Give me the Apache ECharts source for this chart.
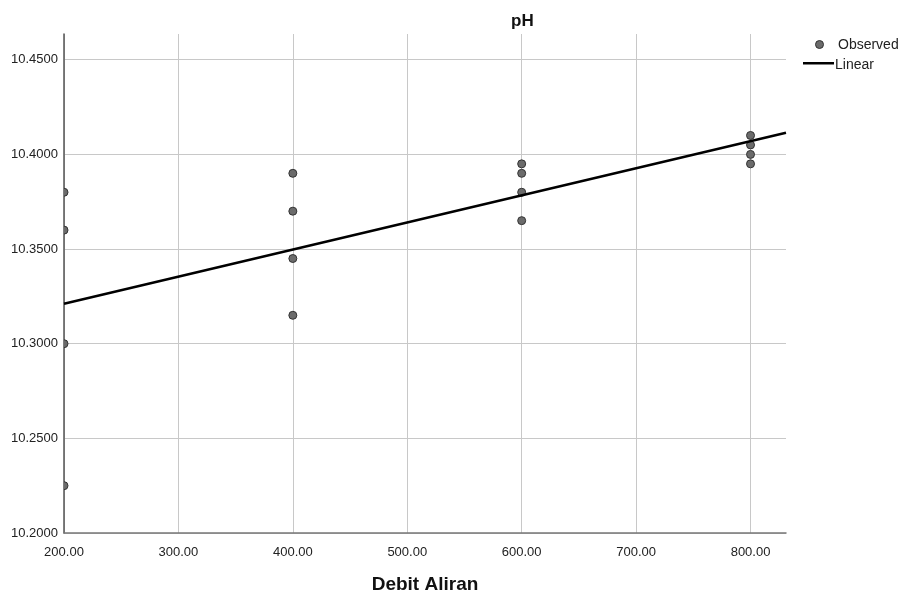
<!DOCTYPE html>
<html>
<head>
<meta charset="utf-8">
<script src="https://cdn.jsdelivr.net/npm/echarts@6/dist/echarts.min.js"></script>
<style>
  html, body { margin: 0; padding: 0; background: #fff; }
  #chart { width: 907px; height: 599px; }
</style>
</head>
<body>
<div id="chart"></div>
<script>
// Flow rate (Debit Aliran) groups and measured pH at each
const debitAliran = [200, 200, 200, 200, 400, 400, 400, 400, 600, 600, 600, 600, 800, 800, 800, 800];
const phObserved = [10.380, 10.360, 10.300, 10.225, 10.390, 10.370, 10.345, 10.315,
                    10.395, 10.390, 10.380, 10.365, 10.410, 10.405, 10.400, 10.395];
const xTicks = [200, 300, 400, 500, 600, 700, 800];
const yTicks = [10.20, 10.25, 10.30, 10.35, 10.40, 10.45];
const legendNames = ['Observed', 'Linear'];

const xMin = 200, xMax = 831;
const yMin = 10.20, yMax = 10.4636;

// least-squares line through the observations
function linearFit(xs, ys) {
  const n = xs.length;
  const mx = xs.reduce((a, b) => a + b, 0) / n;
  const my = ys.reduce((a, b) => a + b, 0) / n;
  let sxy = 0, sxx = 0;
  for (let i = 0; i < n; i++) {
    sxy += (xs[i] - mx) * (ys[i] - my);
    sxx += (xs[i] - mx) * (xs[i] - mx);
  }
  const b = sxy / sxx;
  return { a: my - b * mx, b: b };
}
const fit = linearFit(debitAliran, phObserved);
const fitLine = [[xMin, fit.a + fit.b * xMin], [xMax, fit.a + fit.b * xMax]];

const font = '"Liberation Sans", Arial, sans-serif';
const markerFill = '#6b6b6b';
const markerStroke = '#333';

const chart = echarts.init(document.getElementById('chart'), null, { renderer: 'canvas' });

chart.setOption({
  animation: false,
  backgroundColor: '#ffffff',
  title: {
    text: 'pH',
    left: 506,
    top: 8,
    textStyle: { fontFamily: font, fontSize: 17, fontWeight: 'bold', color: '#111' }
  },
  // key at the upper right
  graphic: [
    { type: 'circle', left: 815, top: 40, shape: { r: 4 },
      style: { fill: markerFill, stroke: markerStroke, lineWidth: 1 } },
    { type: 'text', left: 838, top: 38,
      style: { text: legendNames[0], font: '14px ' + font, fill: '#222' } },
    { type: 'rect', left: 803, top: 62, shape: { width: 31, height: 2.5 },
      style: { fill: '#000' } },
    { type: 'text', left: 835, top: 58,
      style: { text: legendNames[1], font: '14px ' + font, fill: '#222' } }
  ],
  grid: { left: 64, right: 121, top: 34, bottom: 64, containLabel: false },
  xAxis: {
    type: 'value',
    min: xMin,
    max: xMax,
    interval: 100,
    name: 'Debit Aliran',
    nameLocation: 'middle',
    nameGap: 42,
    nameTextStyle: { fontFamily: font, fontSize: 19, fontWeight: 'bold', color: '#111' },
    axisLine: { show: true, onZero: false, lineStyle: { color: '#777', width: 1.5 } },
    axisTick: { show: false },
    axisLabel: {
      margin: 13,
      fontFamily: font, fontSize: 13, color: '#222',
      showMaxLabel: false,
      formatter: v => (xTicks.includes(v) ? v.toFixed(2) : '')
    },
    splitLine: { show: true, showMaxLine: false, lineStyle: { color: '#c8c8c8', width: 1 } }
  },
  yAxis: {
    type: 'value',
    min: yMin,
    max: yMax,
    interval: 0.05,
    axisLine: { show: true, onZero: false, lineStyle: { color: '#555', width: 1.5 } },
    axisTick: { show: false },
    axisLabel: {
      margin: 6,
      fontFamily: font, fontSize: 13, color: '#222',
      showMaxLabel: false,
      formatter: v => (yTicks.some(t => Math.abs(t - v) < 1e-6) ? v.toFixed(4) : '')
    },
    splitLine: { show: true, showMaxLine: false, lineStyle: { color: '#c8c8c8', width: 1 } }
  },
  series: [
    {
      name: 'Observed',
      type: 'custom',
      clip: true,
      data: debitAliran.map((x, i) => [x, phObserved[i]]),
      encode: { x: 0, y: 1 },
      renderItem: function (params, api) {
        const p = api.coord([api.value(0), api.value(1)]);
        return {
          type: 'circle',
          shape: { cx: p[0], cy: p[1], r: 4 },
          style: { fill: markerFill, stroke: markerStroke, lineWidth: 1 }
        };
      },
      z: 3
    },
    {
      name: 'Linear',
      type: 'line',
      symbol: 'none',
      clip: true,
      lineStyle: { color: '#000', width: 2.5 },
      itemStyle: { color: '#000' },
      data: fitLine,
      z: 4
    }
  ]
});
</script>
</body>
</html>
